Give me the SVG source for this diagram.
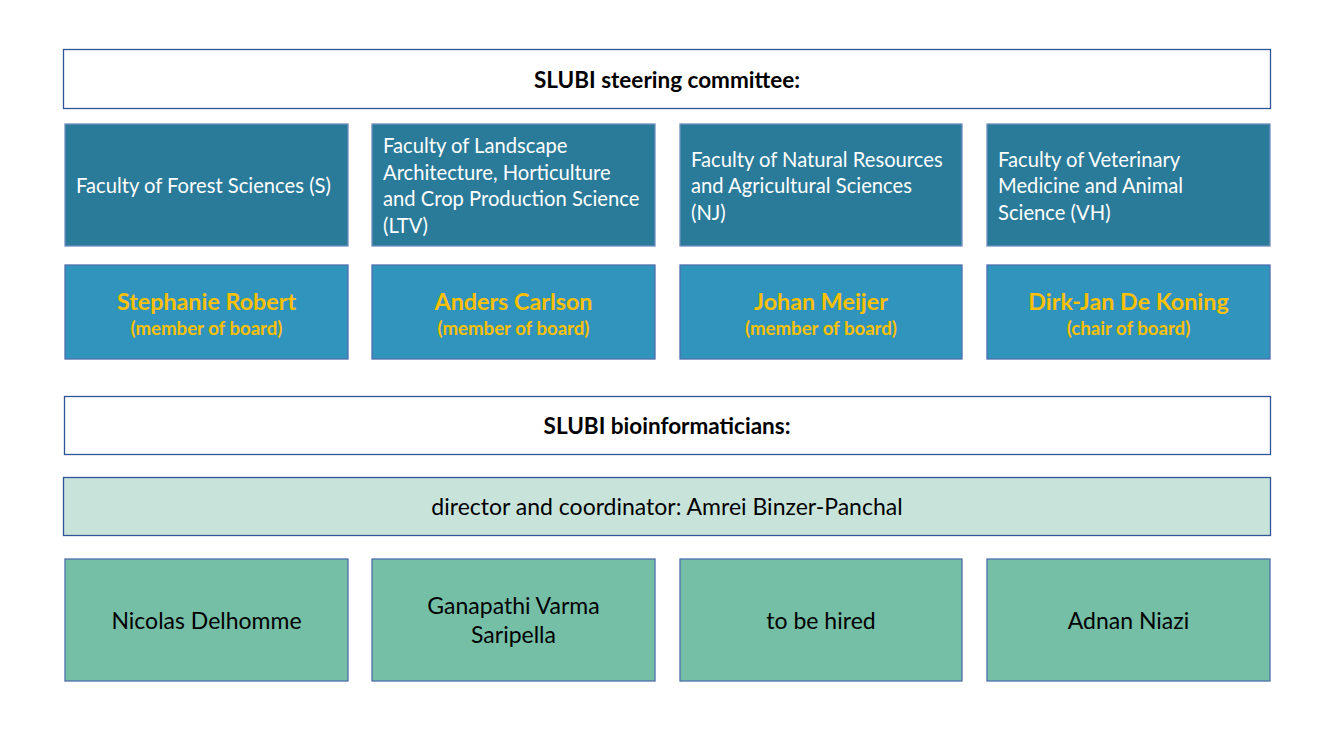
<svg xmlns="http://www.w3.org/2000/svg" width="1333" height="750" viewBox="0 0 1333 750">
<style>
text{font-family:Lato,"Open Sans","Liberation Sans",sans-serif}
.hdr{fill:#fff;stroke:#2F5597;stroke-width:1.3}
.fac{fill:#2A7A99;stroke:#6F8FC0;stroke-width:1.3}
.mem{fill:#3194BC;stroke:#4E6FAE;stroke-width:1.3}
.dir{fill:#C8E4DA;stroke:#2F5597;stroke-width:1.3}
.bio{fill:#75BFA7;stroke:#4E6FAE;stroke-width:1.3}
.ht{font-size:22.5px;font-weight:bold;fill:#000;text-anchor:middle}
.ft{font-size:20.2px;fill:#fff}
.mn{font-size:23.3px;font-weight:bold;fill:#FFC000;text-anchor:middle}
.ms{font-size:18.6px;font-weight:bold;fill:#FFC000;text-anchor:middle}
.bt{font-size:23px;fill:#000;text-anchor:middle}
</style>
<g id="steering"><rect class="hdr" x="63.5" y="49.5" width="1207" height="59"/><text class="ht" x="667" y="88">SLUBI steering committee:</text></g>
<g id="fac-s"><rect class="fac" x="65" y="124" width="283" height="122"/><text class="ft" x="76" y="193">Faculty of Forest Sciences (S)</text></g>
<g id="fac-ltv"><rect class="fac" x="372" y="124" width="283" height="122"/><text class="ft"><tspan x="383" y="153">Faculty of Landscape</tspan><tspan x="383" y="179.5">Architecture, Horticulture</tspan><tspan x="383" y="206">and Crop Production Science</tspan><tspan x="383" y="232.5">(LTV)</tspan></text></g>
<g id="fac-nj"><rect class="fac" x="680" y="124" width="282" height="122"/><text class="ft"><tspan x="691" y="166.5">Faculty of Natural Resources</tspan><tspan x="691" y="193">and Agricultural Sciences</tspan><tspan x="691" y="219.5">(NJ)</tspan></text></g>
<g id="fac-vh"><rect class="fac" x="987" y="124" width="283" height="122"/><text class="ft"><tspan x="998" y="166.5">Faculty of Veterinary</tspan><tspan x="998" y="193">Medicine and Animal</tspan><tspan x="998" y="219.5">Science (VH)</tspan></text></g>
<g id="mem-s"><rect class="mem" x="65" y="265" width="283" height="94"/><text class="mn" x="206.5" y="310">Stephanie Robert</text><text class="ms" x="206.5" y="335">(member of board)</text></g>
<g id="mem-ltv"><rect class="mem" x="372" y="265" width="283" height="94"/><text class="mn" x="513.5" y="310">Anders Carlson</text><text class="ms" x="513.5" y="335">(member of board)</text></g>
<g id="mem-nj"><rect class="mem" x="680" y="265" width="282" height="94"/><text class="mn" x="821" y="310">Johan Meijer</text><text class="ms" x="821" y="335">(member of board)</text></g>
<g id="mem-vh"><rect class="mem" x="987" y="265" width="283" height="94"/><text class="mn" x="1128.5" y="310">Dirk-Jan De Koning</text><text class="ms" x="1128.5" y="335">(chair of board)</text></g>
<g id="bioinf"><rect class="hdr" x="64.5" y="396.5" width="1206" height="58"/><text class="ht" x="667" y="434">SLUBI bioinformaticians:</text></g>
<g id="director"><rect class="dir" x="63.5" y="477.5" width="1207" height="58"/><text class="bt" x="667" y="515">director and coordinator: Amrei Binzer-Panchal</text></g>
<g id="b1"><rect class="bio" x="65" y="559" width="283" height="122"/><text class="bt" x="206.5" y="629">Nicolas Delhomme</text></g>
<g id="b2"><rect class="bio" x="372" y="559" width="283" height="122"/><text class="bt"><tspan x="513.5" y="614">Ganapathi Varma</tspan><tspan x="513.5" y="643">Saripella</tspan></text></g>
<g id="b3"><rect class="bio" x="680" y="559" width="282" height="122"/><text class="bt" x="821" y="629">to be hired</text></g>
<g id="b4"><rect class="bio" x="987" y="559" width="283" height="122"/><text class="bt" x="1128.5" y="629">Adnan Niazi</text></g>
<g id="connectors"/>
</svg>
